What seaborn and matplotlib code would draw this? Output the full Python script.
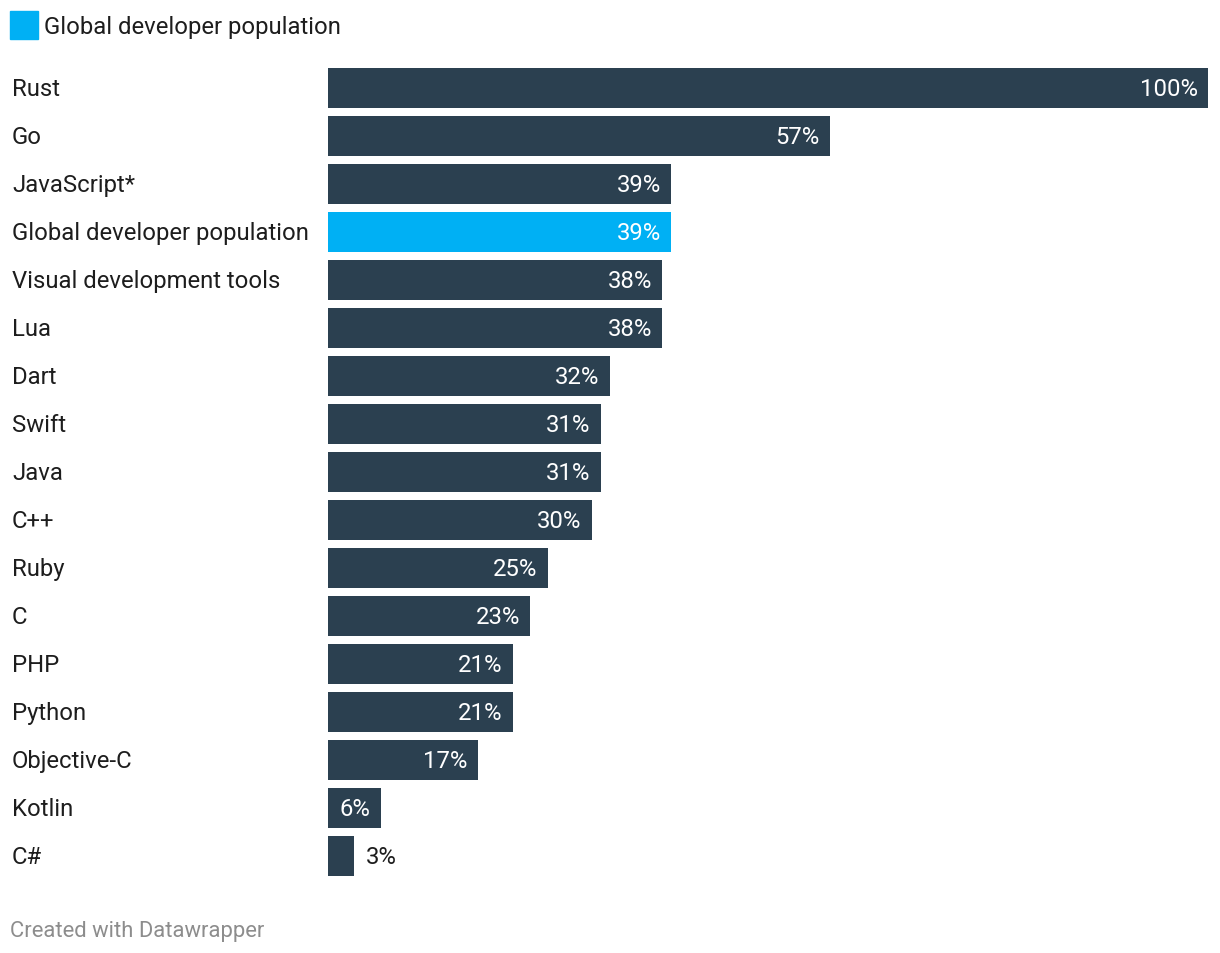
import matplotlib
matplotlib.use("Agg")
import matplotlib.pyplot as plt
import seaborn as sns
import pandas as pd
from matplotlib.patches import Rectangle
import matplotlib.transforms as mtransforms

categories = ["Rust", "Go", "JavaScript*", "Global developer population",
              "Visual development tools", "Lua", "Dart", "Swift", "Java", "C++",
              "Ruby", "C", "PHP", "Python", "Objective-C", "Kotlin", "C#"]
values = [100, 57, 39, 39, 38, 38, 32, 31, 31, 30, 25, 23, 21, 21, 17, 6, 3]
highlight = "Global developer population"

DARK = "#2b4050"
BLUE = "#00b0f4"
TEXT = "#1d1d1d"

sns.set_theme(style="white")
plt.rcParams["font.family"] = ["Roboto", "DejaVu Sans"]

df = pd.DataFrame({"cat": categories, "val": values,
                   "grp": ["hi" if c == highlight else "base" for c in categories]})

W, H = 1220, 954
fig = plt.figure(figsize=(W / 100, H / 100), dpi=100)
ax = fig.add_axes([328 / W, 1 - 881 / H, 880 / W, 816 / H])

sns.barplot(data=df, x="val", y="cat", hue="grp", palette={"base": DARK, "hi": BLUE},
            dodge=False, width=40 / 48, orient="h", legend=False, ax=ax,
            saturation=1, order=categories, linewidth=0, edgecolor="none")
ax.set_xlim(0, 100)
ax.set_ylim(len(categories) - 0.5, -0.5)
ax.axis("off")

fs = 17.2
trans = mtransforms.blended_transform_factory(fig.transFigure, ax.transData)
trans = mtransforms.offset_copy(trans, fig=fig, y=2, units="dots")
for i, (c, v) in enumerate(zip(categories, values)):
    fig.text(12 / W, i, c, transform=trans, ha="left", va="center_baseline",
             fontsize=fs, color=TEXT)
    if v >= 5:
        ax.annotate(f"{v}%", xy=(v, i), xytext=(-7.5, 1.4), textcoords="offset points",
                    ha="right", va="center_baseline", fontsize=fs, color="white")
    else:
        ax.annotate(f"{v}%", xy=(v, i), xytext=(8, 1.4), textcoords="offset points",
                    ha="left", va="center_baseline", fontsize=fs, color=TEXT)

# legend
fig.patches.append(Rectangle((10 / W, 1 - 40 / H), 28 / W, 28 / H,
                             transform=fig.transFigure, color=BLUE, zorder=3))
fig.text(44 / W, 1 - 25 / H, highlight, ha="left", va="center_baseline",
         fontsize=fs, color=TEXT)

fig.text(10 / W, 1 - 929 / H, "Created with Datawrapper", ha="left",
         va="center_baseline", fontsize=15.8, color="#8d8d8d")

fig.savefig("out.png", dpi=100)
